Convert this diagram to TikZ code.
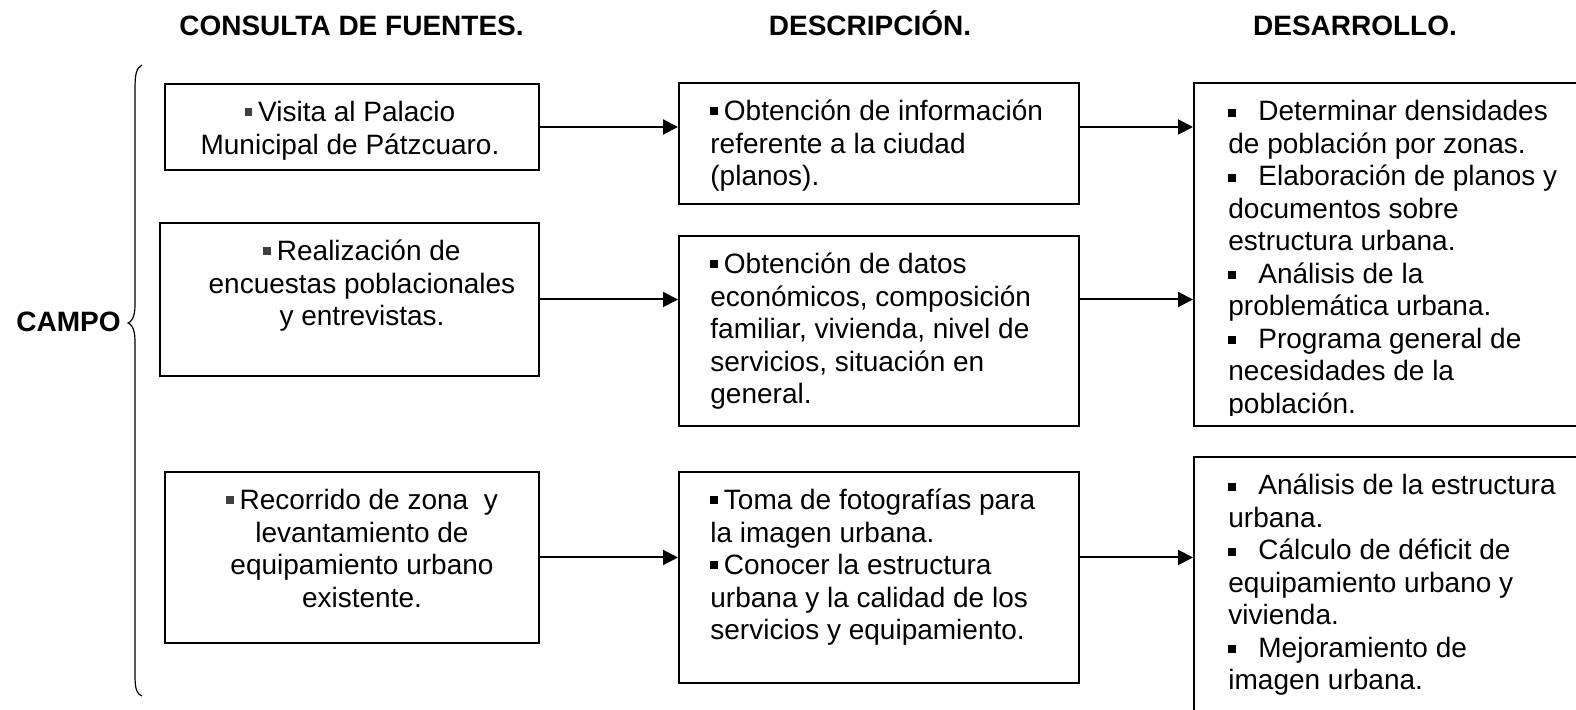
\documentclass[tikz,border=0pt]{standalone}
\usepackage{fontspec}
\setmainfont{Liberation Sans}
\usetikzlibrary{arrows.meta, positioning}
\newcommand{\cuadro}{\rule[3pt]{3.75pt}{3.75pt}\hspace{3pt}}
\newcommand{\vineta}{\makebox[15pt][l]{\rule[2pt]{4pt}{4pt}}}
\newcommand{\alto}{\rule{0pt}{14pt}}

\begin{document}
\begin{tikzpicture}[x=0.5pt, y=-0.5pt,
    caja/.style={draw, line width=1pt, inner sep=0pt},
    texto/.style={inner sep=0pt, font=\fontsize{14}{16.25}\selectfont},
    titulo/.style={inner sep=0pt, anchor=base, font=\fontsize{14}{16.25}\selectfont\bfseries},
    flecha/.style={line width=1pt, -{Triangle[length=7.5pt, width=7.5pt]}}]
  \useasboundingbox (0,0) rectangle (1576,710);

  \node[titulo] (tfuentes) at (351.5,36) {CONSULTA DE FUENTES.};
  \node[titulo] (tdescrip) at (870,36) {DESCRIPCIÓN.};
  \node[titulo] (tdesarr) at (1355,36) {DESARROLLO.};
  \node[titulo, anchor=base west] (campo) at (16,332) {CAMPO};

  \draw[line width=0.6pt] (142,65) .. controls (136,68) and (135,75) .. (135,90) -- (135,305)
    .. controls (135,318) and (131,322) .. (128,323)
    .. controls (131,324) and (135,328) .. (135,341) -- (135,675)
    .. controls (135,690) and (137,694) .. (142,696);

  \node[caja, minimum width=187pt, minimum height=43pt] (fuente1) at (352,127) {};
  \node[caja, minimum width=189.5pt, minimum height=76.5pt] (fuente2) at (349.5,299.5) {};
  \node[caja, minimum width=187pt, minimum height=85.5pt] (fuente3) at (352,557.5) {};
  \node[caja, minimum width=200pt, minimum height=60.5pt] (desc1) at (879,143.5) {};
  \node[caja, minimum width=200pt, minimum height=95pt] (desc2) at (879,331) {};
  \node[caja, minimum width=200pt, minimum height=105.5pt] (desc3) at (879,577.5) {};
  \node[caja, minimum width=198pt, minimum height=171.5pt] (desa1) at (1392,254.5) {};
  \node[caja, minimum width=198pt, minimum height=141.5pt] (desa2) at (1392,598.5) {};

  \node[texto, align=center, below=5.25pt of fuente1.north, xshift=-1pt] (tf1)
    {\alto\textcolor{black!75}{\cuadro}Visita al Palacio\\ Municipal de Pátzcuaro.};
  \node[texto, align=center, below=5.25pt of fuente2.north, xshift=6.25pt] (tf2)
    {\alto\textcolor{black!75}{\cuadro}Realización de\\ encuestas poblacionales\\ y entrevistas.};
  \node[texto, align=center, below=5.25pt of fuente3.north, xshift=5pt] (tf3)
    {\alto\textcolor{black!75}{\cuadro}Recorrido de zona\ \ y\\ levantamiento de\\ equipamiento urbano\\ existente.};

  \node[texto, align=left, below right=5.25pt and 16pt of desc1.north west] (td1)
    {\alto\cuadro Obtención de información\\ referente a la ciudad\\ (planos).};
  \node[texto, align=left, below right=5.25pt and 16pt of desc2.north west] (td2)
    {\alto\cuadro Obtención de datos\\ económicos, composición\\ familiar, vivienda, nivel de\\ servicios, situación en\\ general.};
  \node[texto, align=left, below right=5.25pt and 16pt of desc3.north west] (td3)
    {\alto\cuadro Toma de fotografías para\\ la imagen urbana.\\ \cuadro Conocer la estructura\\ urbana y la calidad de los\\ servicios y equipamiento.};

  \begin{scope}
    \clip (1194,83) rectangle (1576,416);
    \node[texto, align=left, below right=5.25pt and 17.5pt of desa1.north west] (te1)
      {\alto\vineta Determinar densidades\\ de población por zonas.\\ \vineta Elaboración de planos y\\ documentos sobre\\ estructura urbana.\\ \vineta Análisis de la\\ problemática urbana.\\ \vineta Programa general de\\ necesidades de la\\ población.};
  \end{scope}
  \node[texto, align=left, below right=5.25pt and 17.5pt of desa2.north west] (te2)
    {\alto\vineta Análisis de la estructura\\ urbana.\\ \vineta Cálculo de déficit de\\ equipamiento urbano y\\ vivienda.\\ \vineta Mejoramiento de\\ imagen urbana.};

  \draw[flecha] (fuente1.east) -- (fuente1.east -| desc1.west);
  \draw[flecha] (fuente2.east) -- (fuente2.east -| desc2.west);
  \draw[flecha] (fuente3.east) -- (fuente3.east -| desc3.west);
  \draw[flecha] (fuente1.east -| desc1.east) -- (fuente1.east -| desa1.west);
  \draw[flecha] (fuente2.east -| desc2.east) -- (fuente2.east -| desa1.west);
  \draw[flecha] (fuente3.east -| desc3.east) -- (fuente3.east -| desa2.west);
\end{tikzpicture}
\end{document}
